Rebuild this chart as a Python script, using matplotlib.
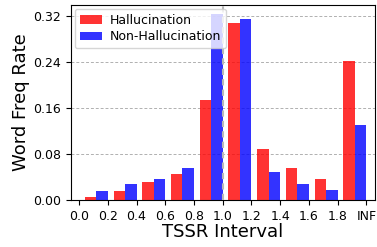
import numpy as np
import matplotlib
matplotlib.use("Agg")
import matplotlib.pyplot as plt

# TSSR interval tick labels and word frequency rates per interval
tick_labels = ["0.0", "0.2", "0.4", "0.6", "0.8", "1.0", "1.2", "1.4", "1.6", "1.8", "INF"]
halluc = [0.005, 0.016, 0.032, 0.045, 0.173, 0.307, 0.089, 0.056, 0.037, 0.242]
non_halluc = [0.016, 0.027, 0.037, 0.056, 0.324, 0.315, 0.049, 0.028, 0.018, 0.131]
y_ticks = [0.00, 0.08, 0.16, 0.24, 0.32]

fig, ax = plt.subplots(figsize=(3.77, 2.47), dpi=100)
fig.subplots_adjust(left=71/377, right=375/377, top=1-5/247, bottom=1-200/247)

idx = np.arange(len(halluc))
w = 0.4
ax.bar(idx + 0.4, halluc, width=w, color="red", alpha=0.8, label="Hallucination", zorder=2)
ax.bar(idx + 0.8, non_halluc, width=w, color="blue", alpha=0.8, label="Non-Hallucination", zorder=2)

ax.axvline(5, color="#b8b8b8", linestyle=(0, (3, 2)), linewidth=1.5, zorder=3)

ax.set_xticks(np.arange(len(tick_labels)))
ax.set_xticklabels(tick_labels, fontsize=9)
ax.set_yticks(y_ticks)
ax.set_yticklabels([f"{v:.2f}" for v in y_ticks], fontsize=9)
ax.set_xlim(-0.28, 10.3)
ax.set_ylim(0, 0.339)
ax.yaxis.grid(True, linestyle=(0, (3, 2)), color="#b0b0b0", linewidth=0.7, zorder=0)
ax.set_axisbelow(True)

ax.set_xlabel("TSSR Interval", fontsize=13, labelpad=0)
ax.set_ylabel("Word Freq Rate", fontsize=13, labelpad=2)
ax.legend(loc="upper left", fontsize=9, handlelength=1.8, borderaxespad=0.3,
          handletextpad=0.6, labelspacing=0.3, borderpad=0.4)

plt.savefig("out.png", dpi=100)
plt.close()
